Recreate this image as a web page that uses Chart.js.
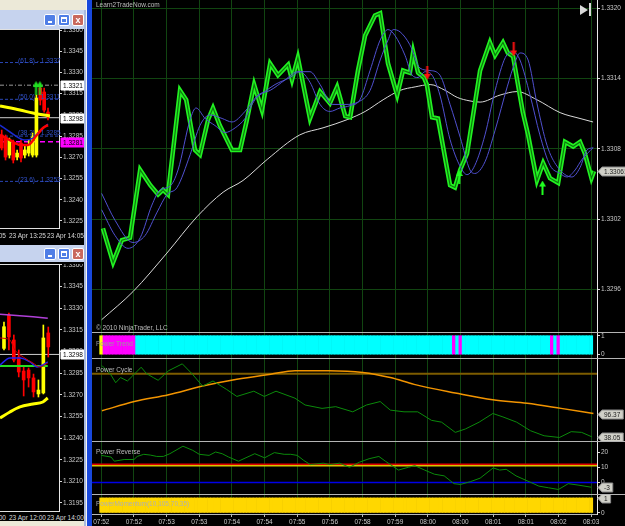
<!DOCTYPE html>
<html><head><meta charset="utf-8">
<script src="https://cdn.jsdelivr.net/npm/chart.js@4.4.1/dist/chart.umd.min.js"></script>
<style>
html,body{margin:0;padding:0;background:#000;}
body{width:625px;height:526px;overflow:hidden;position:relative;font-family:'Liberation Sans',Arial,sans-serif;}
.a{position:absolute;display:block}
.t{position:absolute;white-space:nowrap;font-size:6.5px;line-height:7px;color:#c8c8c8;z-index:5}
.sep{position:absolute;height:1px;background:#b4b4b4;z-index:4}
.btn{position:absolute;width:12px;height:12px;border:1px solid #fff;border-radius:2px;box-sizing:border-box;z-index:3}
</style></head><body>
<!-- left windows chrome -->
<div class="a" style="left:0;top:0;width:92px;height:526px;background:#ece9d8"></div>
<div class="a" style="left:0;top:10px;width:86px;height:19px;background:#c6d3ee"></div>
<div class="a" style="left:0;top:245px;width:86px;height:17px;background:#c6d3ee"></div>
<div class="btn" style="left:44px;top:14px;background:#4f7ee6"><div class="a" style="left:3px;top:6px;width:4px;height:2px;background:#fff"></div></div>
<div class="btn" style="left:58px;top:14px;background:#4f7ee6"><div class="a" style="left:2px;top:2px;width:6px;height:6px;border:1px solid #fff;border-top-width:2px;box-sizing:border-box"></div></div>
<div class="btn" style="left:72px;top:14px;background:#c9685c;color:#fff;font:bold 9px 'Liberation Sans';line-height:10px;text-align:center">x</div>
<div class="btn" style="left:44px;top:248px;background:#4f7ee6"><div class="a" style="left:3px;top:6px;width:4px;height:2px;background:#fff"></div></div>
<div class="btn" style="left:58px;top:248px;background:#4f7ee6"><div class="a" style="left:2px;top:2px;width:6px;height:6px;border:1px solid #fff;border-top-width:2px;box-sizing:border-box"></div></div>
<div class="btn" style="left:72px;top:248px;background:#c9685c;color:#fff;font:bold 9px 'Liberation Sans';line-height:10px;text-align:center">x</div>
<div class="a" style="left:0;top:29px;width:84px;height:216px;background:#000"></div>
<div class="a" style="left:0;top:262px;width:84px;height:259px;background:#000"></div>
<div class="a" style="left:84px;top:10px;width:2px;height:516px;background:#a9b9dc"></div>
<div class="a" style="left:86px;top:0;width:1px;height:526px;background:#f4f4f4"></div>
<div class="a" style="left:87px;top:0;width:5px;height:526px;background:#1848dc"></div>

<div class="t" style="left:96px;top:1px;color:#bdbdbd">Learn2TradeNow.com</div>
<div class="t" style="left:96px;top:324px;color:#bdbdbd">© 2010 NinjaTrader, LLC</div>
<div class="t" style="left:96px;top:340px;color:#9a9a9a">Power Trend</div>
<div class="t" style="left:96px;top:366px;color:#bdbdbd">Power Cycle</div>
<div class="t" style="left:96px;top:448px;color:#bdbdbd">Power Reverse</div>
<div class="t" style="left:96px;top:500px;color:#b0b0b0">PowerMomentum(10,105,70,35)</div>
<div class="a" style="left:580px;top:5px;width:0;height:0;border-top:5px solid transparent;border-bottom:5px solid transparent;border-left:8px solid #d8d8d8;z-index:5"></div>
<div class="a" style="left:589px;top:3px;width:2px;height:13px;background:#d8d8d8;z-index:5"></div>

<div class="t" style="left:18px;top:57px;color:#3050c8">(61.8) - 1.3337</div>
<div class="t" style="left:18px;top:93px;color:#3050c8">(50.0) - 1.3311</div>
<div class="t" style="left:18px;top:129px;color:#3050c8">(38.2) - 1.3285</div>
<div class="t" style="left:18px;top:176px;color:#3050c8">(23.6) - 1.3253</div>
<div class="t" style="left:-31px;top:232px;color:#d8d8d8">23 Apr 13:05</div>
<div class="t" style="left:9px;top:232px;color:#d8d8d8">23 Apr 13:25</div>
<div class="t" style="left:47px;top:232px;color:#d8d8d8">23 Apr 14:05</div>
<div class="t" style="left:-31px;top:514px;color:#d8d8d8">23 Apr 10:00</div>
<div class="t" style="left:9px;top:514px;color:#d8d8d8">23 Apr 12:00</div>
<div class="t" style="left:47px;top:514px;color:#d8d8d8">23 Apr 14:00</div>

<div class="sep" style="left:92px;top:332px;width:533px"></div>
<div class="sep" style="left:92px;top:358px;width:533px"></div>
<div class="sep" style="left:92px;top:441px;width:533px"></div>
<div class="sep" style="left:92px;top:494px;width:533px"></div>

<script>
// ---------- shared time axis ----------
const tickBars = [0,10,20,30,40,50,60,70,80,90,100,110,120,130,140,150];
const xLabels = ['07:52','07:52','07:53','07:53','07:54','07:54','07:55','07:56','07:58','07:59','08:00','08:00','08:01','08:01','08:02','08:03'];
const X_MIN = -2.85, X_MAX = 151.8;

// ---------- main price panel ----------
const priceTicks = [1.3296,1.3302,1.3308,1.3314,1.3320];
const greenBars = [0.5,3.6,6.3,8.8,11.9,15.0,17.4,18.9,20.4,24.1,26.0,28.7,30.2,32.7,34.2,36.3,40.0,42.5,44.6,46.8,49.2,51.7,54.1,57.2,58.4,60.2,63.9,67.0,70.0,72.2,74.7,76.2,78.6,80.8,83.8,85.4,87.8,90.6,92.4,94.5,95.5,97.0,98.8,99.7,101.3,103.1,106.8,108.3,109.9,112.0,116.0,119.0,120.6,123.0,124.5,126.1,129.1,130.7,133.4,135.3,137.4,139.9,142.0,144.5,146.6,148.1,150.1,150.9];
const greenPrice = [1.33012,1.32983,1.33002,1.33004,1.33062,1.33049,1.33041,1.33045,1.33041,1.33130,1.33122,1.33079,1.33075,1.33105,1.33115,1.33100,1.33079,1.33079,1.33105,1.33135,1.33113,1.33153,1.33143,1.33152,1.33139,1.33158,1.33106,1.33129,1.33119,1.33133,1.33108,1.33107,1.33147,1.33177,1.33194,1.33196,1.33153,1.33126,1.33147,1.33145,1.33163,1.33145,1.33141,1.33135,1.33107,1.33106,1.33049,1.33047,1.33062,1.33076,1.33147,1.33171,1.33160,1.33171,1.33162,1.33159,1.33111,1.33092,1.33053,1.33068,1.33055,1.33051,1.33086,1.33082,1.33086,1.33076,1.33055,1.33061];
const fastBars = [0.1,4.2,8.2,11.9,15.5,18.0,21.0,23.5,27.2,29.0,31.8,34.8,37.9,41.0,44.0,47.0,50.1,53.2,57.8,60.8,63.9,67.0,70.0,73.1,76.2,79.2,82.3,85.4,87.8,89.9,93.0,95.2,97.0,99.1,101.3,103.7,106.8,109.9,112.0,114.4,117.5,120.6,123.7,126.1,128.2,131.3,134.3,137.4,140.5,142.6,145.1,147.2,150.6];
const fastPrice = [1.33028,1.33006,1.32995,1.33004,1.33032,1.33045,1.33048,1.33062,1.33105,1.33115,1.33106,1.33100,1.33094,1.33098,1.33106,1.33122,1.33129,1.33135,1.33141,1.33146,1.33137,1.33118,1.33112,1.33115,1.33117,1.33122,1.33147,1.33173,1.33182,1.33177,1.33160,1.33143,1.33141,1.33146,1.33143,1.33126,1.33088,1.33065,1.33058,1.33066,1.33092,1.33130,1.33158,1.33163,1.33156,1.33126,1.33092,1.33066,1.33059,1.33056,1.33062,1.33071,1.33081];
const slowBars = [0.1,4.2,9.7,13.4,17.1,20.1,23.2,27.2,30.2,33.3,37.0,40.0,44.0,48.0,51.7,56.3,60.0,63.9,67.0,70.7,74.6,78.6,82.3,85.4,87.8,89.4,91.5,94.5,97.6,100.7,103.7,106.8,109.9,112.9,114.4,117.5,120.6,124.3,126.7,128.2,130.7,133.4,136.5,139.6,144.1,146.6,148.7,150.6];
const slowPrice = [1.33042,1.33019,1.33000,1.33006,1.33026,1.33041,1.33047,1.33075,1.33100,1.33109,1.33106,1.33103,1.33112,1.33126,1.33130,1.33139,1.33146,1.33146,1.33135,1.33118,1.33118,1.33120,1.33130,1.33156,1.33173,1.33182,1.33180,1.33169,1.33149,1.33147,1.33143,1.33118,1.33090,1.33062,1.33059,1.33069,1.33096,1.33133,1.33154,1.33162,1.33156,1.33119,1.33083,1.33065,1.33056,1.33064,1.33079,1.33081];
const smaBars = [0.1,9.7,20.1,29.3,37.3,43.4,50.8,60.8,67.9,75.3,80.8,86.3,91.5,96.1,100.7,105.3,109.0,112.9,116.0,122.1,127.3,133.4,140.5,146.6,150.6];
const smaPrice = [1.32934,1.32958,1.32991,1.33022,1.33043,1.33053,1.33071,1.33092,1.33098,1.33105,1.33112,1.33122,1.33130,1.33133,1.33135,1.33130,1.33124,1.33121,1.33120,1.33126,1.33129,1.33122,1.33111,1.33106,1.33103];
const sellArrowBars = [99.8,126.3], sellArrowPrice = [1.33145,1.33165];
const buyArrowBars = [109.6,135.1], buyArrowPrice = [1.33056,1.33047];

// ---------- Power Trend ----------
const trendRuns = [['Y',1],['M',10],['C',97],['M',1],['C',1],['M',1],['C',27],['M',1],['C',1],['M',1],['C',10]];
// ---------- Power Cycle ----------
const cycleBars = [0.2,2.8,4.4,5.9,8.0,9.6,12.2,13.8,15.9,17.4,20.6,24.8,27.9,31.0,34.2,38.4,41.5,46.7,49.9,53.5,59.3,62.4,67.6,71.8,77.0,81.2,85.4,88.5,92.7,96.9,101.1,104.2,108.4,111.5,115.7,119.9,123.0,127.2,131.4,135.6,140.3,143.9,147.1,150.2];
const cycleVals = [216.5,194.9,173.5,186.4,177.8,190.6,212.3,196.7,186.4,179.6,203.5,220.8,194.9,165.0,177.8,156.5,139.1,152.2,139.1,152.2,134.8,117.7,109.2,113.5,100.6,117.7,126.3,104.9,100.6,100.6,79.3,74.7,49.1,57.6,74.7,96.4,87.8,74.7,53.4,40.6,36.3,50.9,49.1,38.05];
const cycleAvgBars = [0.2,10.1,20.6,31.0,41.5,51.9,59.3,69.7,80.1,88.5,95.8,108.4,119.9,130.4,140.8,150.7];
const cycleAvgVals = [103.2,126.3,143.6,165.0,182.1,194.9,203.5,203.5,199.2,186.4,169.3,147.9,130.6,122.0,109.2,96.37];
const cycleLevel = 196;
// ---------- Power Reverse ----------
const revBars = [0,3,4,7,10,11,13,15,17,19,21,25,28,30,33,35,37,39,42,47,50,53,56,58,60,62,64,68,70,73,76,79,82,85,87,91,94,96,99,102,105,108,110,113,116,120,122,124,127,131,134,137,140,143,146,150];
const revVals = [17.8,16.7,14.0,15.1,15.1,17.1,18.5,18.0,17.1,17.1,18.9,23.8,21.1,18.5,17.8,20.0,18.9,16.7,14.0,18.9,16.2,19.6,18.5,18.5,17.8,14.5,11.8,12.7,11.8,12.7,10.0,13.3,15.6,17.1,14.0,8.2,10.0,11.1,8.2,5.5,4.4,-0.7,-1.2,0.6,2.9,9.6,8.2,8.7,4.4,0.6,-2.3,-3.4,-4.5,-0.7,-1.6,-3];
const revLevels = [12, 11, 0];
const revTicks = [0,10,20];
// ---------- Power Momentum ----------
const momentumRuns = [['Y',151]];

// ---------- left windows ----------
const l1Ticks = [1.3225,1.3240,1.3255,1.3270,1.3285,1.3300,1.3315,1.3330,1.3345,1.3360];
const l1Open  = [1.32858,1.32844,1.32716,1.32801,1.32702,1.32801,1.32716,1.32730,1.32716,1.32716,1.33190,1.33162,1.33020];
const l1High  = [1.32893,1.32858,1.32836,1.32822,1.32752,1.32822,1.32780,1.32822,1.32872,1.33141,1.33211,1.33190,1.33049];
const l1Low   = [1.32752,1.32681,1.32695,1.32660,1.32681,1.32667,1.32695,1.32709,1.32702,1.32702,1.33070,1.33020,1.32964];
const l1Close = [1.32766,1.32702,1.32822,1.32681,1.32730,1.32695,1.32752,1.32787,1.32844,1.33119,1.33105,1.33034,1.32985];
const l1YellowBars = [-0.44,4.74,8.1,12.5], l1YellowVals = [1.33063,1.33034,1.33013,1.32992];
const l1RedBars = [-0.44,2.15,4.74,6.8,9.1,10.7,12.0], l1RedVals = [1.32858,1.32822,1.32787,1.32787,1.32858,1.32907,1.32928];
const l1BlueBars = [-0.44,2.15,6.0,8.1,10.7,12.0], l1BlueVals = [1.32928,1.32879,1.32822,1.32836,1.32907,1.32935];
const l1Fib = [1.3337,1.3311,1.3285,1.3253];
const l1Last = 1.3321, l1Mid = 1.3298, l1Pivot = 1.3281;
const l1ArrowBars = [8.9,9.9], l1ArrowVals = [1.3319,1.3319];

const l2Ticks = [1.3195,1.3210,1.3225,1.3240,1.3255,1.3270,1.3285,1.3300,1.3315,1.3330,1.3345,1.3360];
const l2Open  = [1.33022,1.33253,1.33080,1.32962,1.32865,1.32872,1.32817,1.32706,1.32713,1.33129];
const l2High  = [1.33205,1.33267,1.33115,1.33011,1.32900,1.32886,1.32844,1.32803,1.33184,1.33170];
const l2Low   = [1.33011,1.33011,1.32928,1.32824,1.32692,1.32754,1.32685,1.32685,1.32706,1.32962];
const l2Close = [1.33172,1.33101,1.32941,1.32858,1.32803,1.32817,1.32720,1.32733,1.33094,1.33032];
const l2PurpleBars = [-0.81,5.9,8.9], l2PurpleVals = [1.33258,1.33242,1.33230];
const l2RedBars = [-0.81,1.2,2.2,3.9,5.9,7.3,8.9], l2RedVals = [1.33094,1.33080,1.33011,1.32962,1.32920,1.32893,1.32920];
const l2BlueBars = [-0.81,1.2,3.25,5.3,6.7,7.9,8.9], l2BlueVals = [1.32907,1.32955,1.32955,1.32928,1.32893,1.32907,1.32928];
const l2GreenBars = [-0.81,8.9], l2GreenVals = [1.32900,1.32900];
const l2YellowBars = [-0.81,1.2,3.25,5.9,7.9,8.9], l2YellowVals = [1.32539,1.32581,1.32616,1.32636,1.32650,1.32678];
const l2Mid = 1.3298;

// ================= rendering =================
Chart.defaults.font.family = "'Liberation Sans', Arial, sans-serif";
Chart.defaults.font.size = 6.5;
Chart.defaults.color = '#c8c8c8';
Chart.defaults.plugins.legend.display = false;
Chart.defaults.plugins.tooltip.enabled = false;
Chart.defaults.elements.point.radius = 0;

const tagPlugin = {
  id: 'tags',
  afterDraw(chart, args, opts) {
    const items = opts.items || [];
    const ctx = chart.ctx, ys = chart.scales.y, x0 = chart.chartArea.right + 1;
    items.forEach(t => {
      const py = Math.round(ys.getPixelForValue(t.value)) + 0.5;
      ctx.save();
      ctx.font = "6.5px 'Liberation Sans', Arial";
      const w = ctx.measureText(t.text).width + 4;
      ctx.beginPath();
      if (t.box) {
        ctx.rect(x0 + 1, py - 4.5, w + 2, 9);
      } else {
        ctx.moveTo(x0, py); ctx.lineTo(x0 + 4, py - 4.5); ctx.lineTo(x0 + 5 + w, py - 4.5);
        ctx.lineTo(x0 + 5 + w, py + 4.5); ctx.lineTo(x0 + 4, py + 4.5); ctx.closePath();
      }
      ctx.fillStyle = t.bg || '#d0d0c8'; ctx.fill();
      ctx.strokeStyle = t.border || '#8a8a8a'; ctx.lineWidth = 1; ctx.stroke();
      ctx.fillStyle = t.fg || '#202020'; ctx.textBaseline = 'middle';
      ctx.fillText(t.text, t.box ? x0 + 3 : x0 + 6, py + 0.5);
      ctx.restore();
    });
  }
};
const framePlugin = {
  id: 'frame',
  afterDatasetsDraw(chart, args, opts) {
    if (!opts.on) return;
    const {ctx, chartArea: a} = chart;
    ctx.save(); ctx.strokeStyle = '#e0e0e0'; ctx.lineWidth = 1;
    ctx.beginPath();
    ctx.moveTo(a.left, a.top + 0.5); ctx.lineTo(a.right, a.top + 0.5);
    ctx.moveTo(a.left, a.bottom - 0.5); ctx.lineTo(a.right, a.bottom - 0.5);
    ctx.stroke(); ctx.restore();
  }
};
Chart.register(tagPlugin, framePlugin);

function mk(left, top, w, h) {
  const c = document.createElement('canvas');
  c.width = w; c.height = h; c.className = 'a';
  c.style.left = left + 'px'; c.style.top = top + 'px';
  c.style.width = w + 'px'; c.style.height = h + 'px';
  document.body.appendChild(c);
  return c;
}
const pts = (xs, ys) => xs.map((x, i) => ({x, y: ys[i]}));
const GRID = '#114511';

function xAxis(labels) {
  return {
    type: 'linear', min: X_MIN, max: X_MAX, display: true, offset: false,
    afterBuildTicks: s => { s.ticks = tickBars.map(v => ({value: v})); },
    afterFit: s => { s.height = labels ? 12 : 0; s.paddingLeft = 0; s.paddingRight = 0; },
    grid: {color: GRID, offset: false, drawTicks: labels, tickLength: 3, tickColor: '#b8b8b8'},
    border: {display: labels, color: '#b8b8b8'},
    ticks: {display: labels, autoSkip: false, maxRotation: 0, padding: 1, color: '#c8c8c8',
      callback: v => xLabels[tickBars.indexOf(v)]}
  };
}
function yAxis(min, max, ticks, fmt, gridOn, width) {
  return {
    type: 'linear', position: 'right', min, max,
    afterBuildTicks: s => { s.ticks = ticks.map(v => ({value: v})); },
    afterFit: s => { s.width = width || 28; s.paddingTop = 0; s.paddingBottom = 0; },
    grid: {color: gridOn ? GRID : 'rgba(0,0,0,0)', drawOnChartArea: !!gridOn, tickLength: 3, tickColor: '#d8d8d8'},
    border: {display: true, color: '#e8e8e8'},
    ticks: {padding: 1, color: '#c8c8c8', callback: fmt}
  };
}
function base(scales, plugins) {
  return {responsive: false, animation: false, devicePixelRatio: 1,
    layout: {padding: 0, autoPadding: false}, scales,
    plugins: Object.assign({legend: {display: false}, tooltip: {enabled: false}}, plugins || {})};
}
function arrowImg(color, down) {
  const c = document.createElement('canvas'); c.width = 7; c.height = 14;
  const g = c.getContext('2d'); g.fillStyle = color;
  if (down) { g.fillRect(2.5, 0, 2, 9); g.beginPath(); g.moveTo(0, 8); g.lineTo(7, 8); g.lineTo(3.5, 14); g.fill(); }
  else { g.fillRect(2.5, 5, 2, 9); g.beginPath(); g.moveTo(0, 6); g.lineTo(7, 6); g.lineTo(3.5, 0); g.fill(); }
  return c;
}
function expandRuns(runs) { const out = []; runs.forEach(([c, n]) => { for (let k = 0; k < n; k++) out.push(c); }); return out; }
const codeColor = {C: '#00ffff', M: '#ff00ff', Y: '#ffff00'};

// ---- main chart ----
const PMAX = 1.3320 + 8.5 / 117000, PMIN = 1.3320 - 323.5 / 117000;
new Chart(mk(92, 0, 533, 332), {
  type: 'line',
  data: {datasets: [
    {type: 'scatter', data: pts(sellArrowBars, sellArrowPrice), pointStyle: arrowImg('#ff1010', true), pointRadius: 5, order: 0},
    {type: 'scatter', data: pts(buyArrowBars, buyArrowPrice), pointStyle: arrowImg('#20ff20', false), pointRadius: 5, order: 0},
    {data: pts(fastBars, fastPrice), borderColor: '#5050d0', borderWidth: 1, cubicInterpolationMode: 'monotone', order: 1},
    {data: pts(slowBars, slowPrice), borderColor: '#5050d0', borderWidth: 1, cubicInterpolationMode: 'monotone', order: 1},
    {data: pts(greenBars, greenPrice), borderColor: '#0c7a0c', borderWidth: 1.2, order: 2},
    {data: pts(greenBars, greenPrice), borderColor: '#22f222', borderWidth: 4.5, order: 3},
    {data: pts(smaBars, smaPrice), borderColor: '#d8d8d8', borderWidth: 1, cubicInterpolationMode: 'monotone', order: 4}
  ]},
  options: base({x: xAxis(false), y: yAxis(PMIN, PMAX, priceTicks, v => v.toFixed(4), true)},
    {tags: {items: [{value: greenPrice[greenPrice.length - 1], text: greenPrice[greenPrice.length - 1].toFixed(5)}]}})
});

// ---- power trend ----
const trendCodes = expandRuns(trendRuns);
new Chart(mk(92, 332, 533, 26), {
  type: 'bar',
  data: {datasets: [{data: trendCodes.map((c, i) => ({x: i, y: 1})), backgroundColor: trendCodes.map(c => codeColor[c]),
    barPercentage: 1, categoryPercentage: 1, borderWidth: 0}]},
  options: base({x: xAxis(false), y: yAxis(-0.174, 1.195, [0, 1], v => String(v), false)})
});

// ---- power cycle ----
new Chart(mk(92, 358, 533, 83), {
  type: 'line',
  data: {datasets: [
    {data: pts(cycleBars, cycleVals), borderColor: '#0b8a0b', borderWidth: 1, order: 0},
    {data: pts(cycleAvgBars, cycleAvgVals), borderColor: '#f29400', borderWidth: 1.5, cubicInterpolationMode: 'monotone', order: 1},
    {data: [{x: X_MIN, y: cycleLevel}, {x: X_MAX, y: cycleLevel}], borderColor: '#7d5c00', borderWidth: 2, order: 2}
  ]},
  options: base({x: xAxis(false), y: yAxis(27.5, 235.4, [], v => '', false)},
    {tags: {items: [
      {value: cycleAvgVals[cycleAvgVals.length - 1], text: cycleAvgVals[cycleAvgVals.length - 1].toFixed(2)},
      {value: cycleVals[cycleVals.length - 1], text: cycleVals[cycleVals.length - 1].toFixed(2)}]}})
});

// ---- power reverse ----
const levelColors = ['#e00000', '#d8c400', '#0000e8'];
new Chart(mk(92, 441, 533, 53), {
  type: 'line',
  data: {datasets: [
    {data: pts(revBars, revVals), borderColor: '#0b8a0b', borderWidth: 1, order: 0},
    ...revLevels.map((lv, i) => ({data: [{x: X_MIN, y: lv}, {x: X_MAX, y: lv}], borderColor: levelColors[i], borderWidth: 1.5, order: 1}))
  ]},
  options: base({x: xAxis(false), y: yAxis(-7.45, 27.2, revTicks, v => String(v), false)},
    {tags: {items: [{value: revVals[revVals.length - 1], text: String(revVals[revVals.length - 1])}]}})
});

// ---- power momentum ----
const momCodes = expandRuns(momentumRuns);
new Chart(mk(92, 494, 533, 32), {
  type: 'bar',
  data: {datasets: [{data: momCodes.map((c, i) => ({x: i, y: 1})), backgroundColor: '#ffd700',
    barPercentage: 1, categoryPercentage: 1, borderWidth: 0}]},
  options: base({x: xAxis(true), y: yAxis(-0.07, 1.26, [0, 1], v => String(v), false)},
    {tags: {items: [{value: 1, text: '1'}]}})
});

// ---- left window charts ----
function candleSets(o, h, l, c) {
  const col = o.map((v, i) => c[i] >= v ? '#ffff00' : '#ff0000');
  return [
    {type: 'bar', data: o.map((v, i) => ({x: i, y: [l[i], h[i]]})), backgroundColor: col, barThickness: 1, grouped: false, order: 5},
    {type: 'bar', data: o.map((v, i) => ({x: i, y: [v, c[i]]})), backgroundColor: col, barThickness: 3, grouped: false, order: 4}
  ];
}
function hline(v, xmin, xmax, color, dash, w, order) {
  return {type: 'line', data: [{x: xmin, y: v}, {x: xmax, y: v}], borderColor: color, borderDash: dash || [], borderWidth: w || 1, order: order || 6};
}
function leftX(min, max) {
  return {type: 'linear', min, max, display: false, offset: false, grid: {offset: false}};
}
const L1X = [-0.44, 14.85];
new Chart(mk(0, 29, 84, 200), {
  type: 'line',
  data: {datasets: [
    ...l1Fib.map(v => hline(v, L1X[0], L1X[1], '#2a46b4', [3, 2])),
    hline(l1Last, L1X[0], L1X[1], '#9a9a9a', [4, 2, 1, 2]),
    hline(l1Mid, L1X[0], L1X[1], '#cfcfcf'),
    hline(l1Pivot, L1X[0], L1X[1], '#ff00ff', [5, 3], 1.5),
    ...candleSets(l1Open, l1High, l1Low, l1Close),
    {type: 'line', data: pts(l1YellowBars, l1YellowVals), borderColor: '#ffff00', borderWidth: 3, cubicInterpolationMode: 'monotone', order: 2},
    {type: 'line', data: pts(l1BlueBars, l1BlueVals), borderColor: '#1a2ad0', borderWidth: 1.5, cubicInterpolationMode: 'monotone', order: 1},
    {type: 'line', data: pts(l1RedBars, l1RedVals), borderColor: '#ff0000', borderWidth: 2.5, cubicInterpolationMode: 'monotone', order: 0},
    {type: 'scatter', data: pts(l1ArrowBars, l1ArrowVals), pointStyle: arrowImg('#20e020', false), pointRadius: 4, order: 0}
  ]},
  options: base({x: leftX(L1X[0], L1X[1]), y: yAxis(1.321934, 1.336071, l1Ticks, v => v.toFixed(4), false, 25)},
    {frame: {on: true}, tags: {items: [
      {value: l1Last, text: l1Last.toFixed(4), bg: '#ffffff', fg: '#000', box: true, border: '#ffffff'},
      {value: l1Mid, text: l1Mid.toFixed(4), bg: '#ffffff', fg: '#000', box: true, border: '#ffffff'},
      {value: l1Pivot, text: l1Pivot.toFixed(4), bg: '#ff00ff', fg: '#000', box: true, border: '#ff00ff'}]}})
});
const L2X = [-0.81, 11.18];
new Chart(mk(0, 264, 84, 248), {
  type: 'line',
  data: {datasets: [
    hline(l2Mid, L2X[0], L2X[1], '#cfcfcf'),
    ...candleSets(l2Open, l2High, l2Low, l2Close),
    {type: 'line', data: pts(l2PurpleBars, l2PurpleVals), borderColor: '#b040d8', borderWidth: 1.5, order: 3},
    {type: 'line', data: pts(l2YellowBars, l2YellowVals), borderColor: '#ffff00', borderWidth: 3, cubicInterpolationMode: 'monotone', order: 2},
    {type: 'line', data: pts(l2GreenBars, l2GreenVals), borderColor: '#22e022', borderWidth: 2, order: 2},
    {type: 'line', data: pts(l2BlueBars, l2BlueVals), borderColor: '#2020f0', borderWidth: 1.5, cubicInterpolationMode: 'monotone', order: 1},
    {type: 'line', data: pts(l2RedBars, l2RedVals), borderColor: '#d00000', borderWidth: 1, cubicInterpolationMode: 'monotone', order: 0}
  ]},
  options: base({x: leftX(L2X[0], L2X[1]), y: yAxis(1.318876, 1.336069, l2Ticks, v => v.toFixed(4), false, 25)},
    {frame: {on: true}, tags: {items: [{value: l2Mid, text: l2Mid.toFixed(4), bg: '#ffffff', fg: '#000', box: true, border: '#ffffff'}]}})
});
</script>
</body></html>
